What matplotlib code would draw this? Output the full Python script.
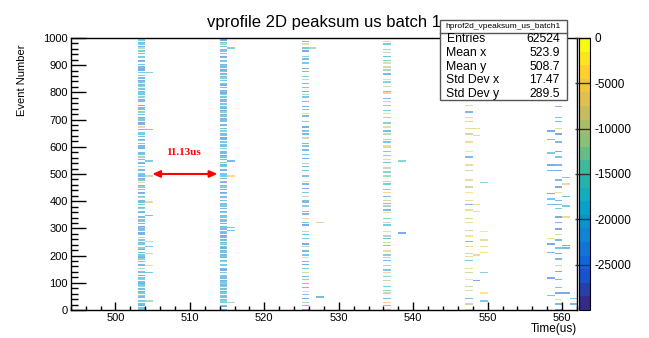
import numpy as np
import matplotlib.pyplot as plt
from matplotlib.colors import LinearSegmentedColormap, BoundaryNorm
from matplotlib.patches import Rectangle
from matplotlib.lines import Line2D
import matplotlib.cm as cm

plt.rcParams['font.family'] = ['Liberation Sans', 'DejaVu Sans']
plt.rcParams['axes.unicode_minus'] = False

# histogram binning: 1 us in x, 5 events in y
x_min, x_max = 494, 562
n_events = 1000
y_bin = 5

# main peak columns (left bin edge, us)
column_x = [503, 514, 525, 536, 547, 559]

# one char per 5-event bin, from event 0 upward; '.' = empty,
# digit d -> peaksum of about -(d + 0.5) * 3000
col_503 = ("66.87.6..75.68.7.468" "7.56.8.76.4.77.6.587" "6.7.85..67.6.3.78.67"
           "58.7.66.7..86.57.6.7" "7.46.78.6.57.2.68.76" "6.77.5.86.7.4.67..87"
           "7.6.58.7.66.7.2.78.6" "68.7.5.67.8..67.5.76" "7.6.47.68.7.5.6.877."
           "6.78.56.7.6.38.67.56")
col_514 = ("7.86.657.76.68.7.675" "68.775.6.87.66.57.86" "7.67.86.57.7.68.76.7"
           "67.8.76.67.58.7.667." "7.76.68.7.57.86.7.66" "6.87.67.5.7.68.77.6."
           "76.6.78.67.5.7.86.67" "7.67.58.76.6.77.6.58" "67.7.86.6.57.7.68.76"
           "7.66.78.5.67.7.46.87")
col_525 = ("7..6.4..8..6.2..7..6" "..5.7..3..6..8.7..2." "6..7..4.8...6..7.3.."
           "..8.6..2..7.6...5..7" "7..3..6..8..7.2...6." "..6..7.4...8..6..7.."
           "6.7...3..7.6..8...5." "..7.2..6.8...7..6.4." "8..6..7..3.6...7.8.."
           ".6..7.5...8.6..2.7.6")
col_536 = ("4..6.2..7...3.5..6.." ".3..5..2.6..4...7.3." "5..2...6.3..7.4..2.."
           "..6.3..5...2.7..4.6." "3..7..2.5...6.3...4." ".5..3...7.2..5..6..3"
           "2..6.4...3.7..2..5.." ".4..2.6...5..3.7...2" "6...3..5.2...7..4.3."
           ".2.5..7..3.4...6.2.5")
col_547 = ("2...3...7.....2..3.." "..1....3..2.....6..2" ".3....2...7...1...3."
           "....2..3.....2...7.." "2.....1...3....2...." "..3...2.....7...1..."
           "...2.....3...2....3." ".2...7....2.....3..." "......2.........3..."
           "....................")
col_559 = ("8...7..2....8...6..." "..7.....8...3....7.." ".8...6.....7...2...8"
           "....7...8.....6..7.." "7.....2...8....7...." "..8...7.....6...8..."
           "...7.....8...2....7." ".6.......7.........." "...................."
           "....................")
columns = [col_503, col_514, col_525, col_536, col_547, col_559]

# isolated cells next to the columns
side_x = [504, 504, 504, 504, 504, 504, 504, 504, 504, 504, 504, 504,
          515, 515, 515, 515, 515, 515,
          527, 527, 526, 538, 538,
          548, 548, 549, 548, 548, 549, 549, 549, 549, 548, 549, 548, 549, 549,
          558, 558, 558, 558, 558, 558, 558, 558, 558, 558, 558, 558, 558,
          560, 560, 560, 560, 560, 560, 560, 560, 561, 561]
side_event = [395, 345, 250, 230, 205, 160, 137, 30, 870, 660, 545, 490,
              960, 548, 494, 300, 290, 25,
              45, 320, 960, 545, 280,
              667, 641, 466, 389, 363, 286, 259, 233, 214, 204, 137, 107, 63, 30,
              655, 628, 577, 533, 514, 426, 407, 385, 263, 244, 211, 115, 52,
              485, 463, 418, 381, 344, 237, 226, 63, 40, 20]
side_level = [2, 7, 2, 6, 3, 2, 6, 4, 5, 6, 6, 3,
              5, 7, 2, 6, 6, 4,
              7, 3, 4, 5, 8,
              2, 2, 5, 2, 2, 1, 2, 2, 1, 2, 5, 8, 1, 6,
              8, 7, 6, 8, 7, 8, 6, 7, 2, 8, 7, 8, 6,
              6, 2, 7, 6, 2, 8, 7, 8, 6, 7]

# stats box contents
stat_names = ["Entries", "Mean x", "Mean y", "Std Dev x", "Std Dev y"]
stat_values = ["62524", "523.9", "508.7", "17.47", "289.5"]

# fill the 2D histogram
x_edges = np.arange(x_min, x_max + 1)
y_edges = np.arange(0, n_events + 1, y_bin)
z = np.full((len(y_edges) - 1, len(x_edges) - 1), np.nan)
for cx, s in zip(column_x, columns):
    for i, ch in enumerate(s[:len(y_edges) - 1]):
        if ch != '.':
            z[i, cx - x_min] = -(int(ch) + 0.5) * 3000
for sx, se, sl in zip(side_x, side_event, side_level):
    z[se // y_bin, sx - x_min] = -(sl + 0.5) * 3000

# ROOT kBird palette, 20 contours
stops = np.linspace(0, 1, 9)
red = [0.2082, 0.0592, 0.0780, 0.0232, 0.1802, 0.5301, 0.8186, 0.9956, 0.9764]
green = [0.1664, 0.3599, 0.5041, 0.6419, 0.7178, 0.7492, 0.7328, 0.7862, 0.9832]
blue = [0.5293, 0.8684, 0.8385, 0.7914, 0.6425, 0.4662, 0.3499, 0.1968, 0.0539]
bird = LinearSegmentedColormap.from_list('bird', list(zip(stops, zip(red, green, blue))))
levels = np.linspace(-30000, 0, 21)
norm = BoundaryNorm(levels, bird.N)

fig = plt.figure(figsize=(6.49, 3.38), dpi=100)
ax = fig.add_axes([0.109, 0.0828, 0.780, 0.805])
cax = fig.add_axes([0.8926, 0.0828, 0.0165, 0.805])

ax.pcolormesh(x_edges, y_edges, z, cmap=bird, norm=norm, alpha=0.55)
ax.set_xlim(x_min, x_max)
ax.set_ylim(0, n_events)

# ticks like ROOT: inside, left and bottom only
ax.set_xticks(range(500, 561, 10))
ax.set_xticks(range(494, 563, 2), minor=True)
ax.set_yticks(range(0, 1001, 100))
ax.set_yticks(range(0, 1001, 20), minor=True)
ax.tick_params(axis='both', which='both', direction='in', labelsize=8, width=1)
ax.tick_params(axis='x', which='major', length=5.8, pad=2.5)
ax.tick_params(axis='x', which='minor', length=3)
ax.tick_params(axis='y', which='major', length=10.5, pad=2)
ax.tick_params(axis='y', which='minor', length=5)
for sp in ax.spines.values():
    sp.set_linewidth(1)

ax.set_title("vprofile 2D peaksum us batch 1", fontsize=12, pad=8)
fig.text(577 / 649, 1 - 329 / 338, "Time(us)", ha='right', va='center', fontsize=8.5)
fig.text(22 / 649, 1 - 45 / 338, "Event Number", rotation=90, ha='center', va='top',
         fontsize=8)

# peak spacing annotation
ax.annotate("", xy=(513.7, 500), xytext=(504.95, 500),
            arrowprops=dict(arrowstyle='<|-|>,head_length=0.45,head_width=0.2',
                            color='red', lw=1.5, shrinkA=0, shrinkB=0))
ax.text(509.2, 580, "11.13us", color='red', fontsize=8, fontweight='bold',
        family='Liberation Serif', ha='center', va='center')

# colour palette on the right
sm = cm.ScalarMappable(norm=norm, cmap=bird)
cb = fig.colorbar(sm, cax=cax, ticks=range(-25000, 1, 5000))
cb.outline.set_linewidth(0.8)
cax.tick_params(direction='in', length=11, width=1, color='#333333',
                labelsize=8.5, pad=3)
cax.minorticks_off()

# stats box
box = Rectangle((440 / 649, 1 - 100 / 338), 126.7 / 649, 80 / 338,
                transform=fig.transFigure, facecolor='white', edgecolor='#555555',
                lw=1, zorder=5)
fig.add_artist(box)
fig.add_artist(Line2D([440 / 649, 566.7 / 649], [1 - 33 / 338, 1 - 33 / 338],
                      transform=fig.transFigure, color='#555555', lw=1, zorder=6))
fig.text(503 / 649, 1 - 26.5 / 338, "hprof2d_vpeaksum_us_batch1", ha='center',
         va='center', fontsize=6, zorder=7)
for k, (name, val) in enumerate(zip(stat_names, stat_values)):
    yy = 1 - (39.5 + k * 13.6) / 338
    fig.text(446.5 / 649, yy, name, ha='left', va='center', fontsize=8.8, zorder=7)
    fig.text(560 / 649, yy, val, ha='right', va='center', fontsize=8.8, zorder=7)

plt.savefig('out.png')
